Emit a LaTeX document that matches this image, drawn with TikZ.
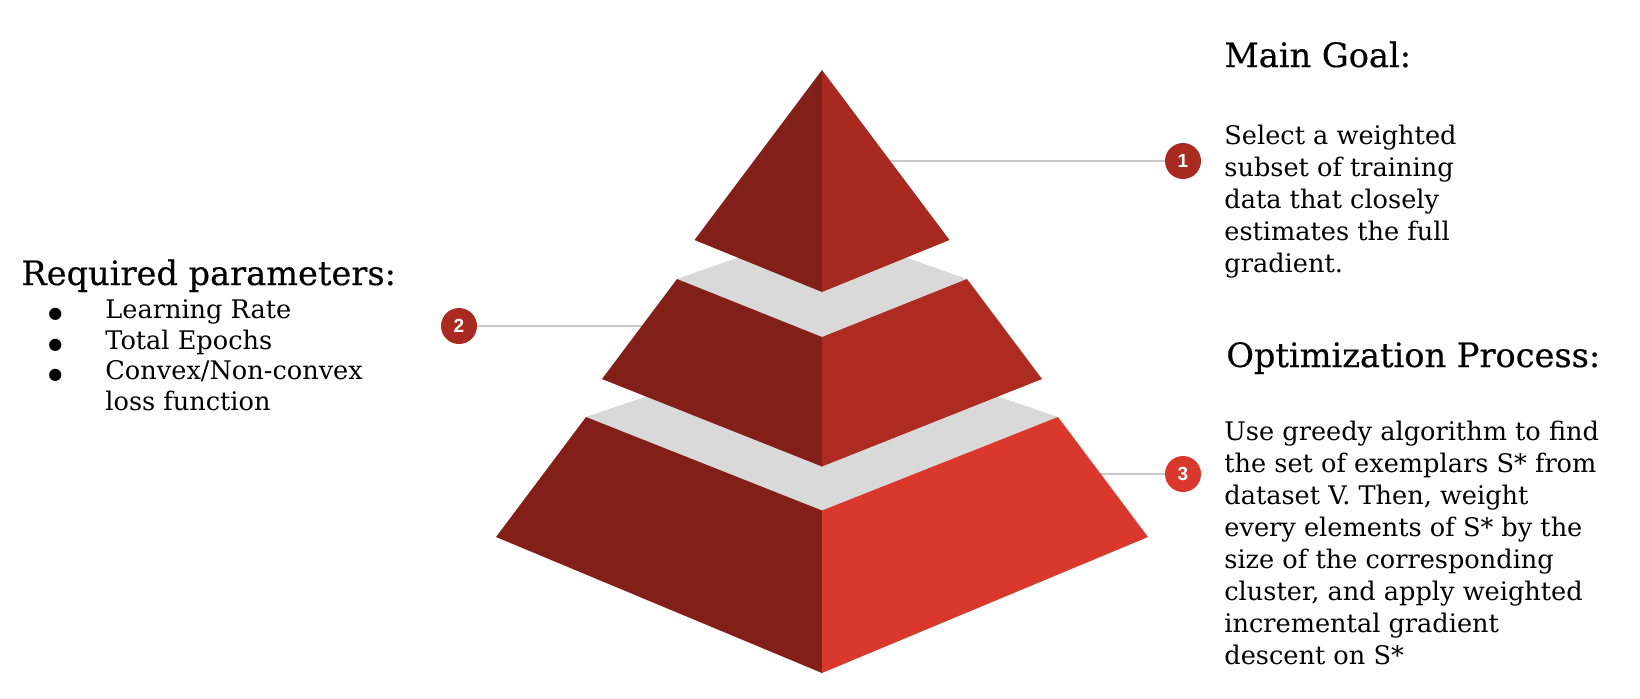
\documentclass[tikz,border=0pt]{standalone}
\usepackage{fontspec}
\setmainfont{DejaVu Serif}
\newfontfamily\headfont[FakeBold=0.4]{DejaVu Serif}
\newfontfamily\numfont{Liberation Sans}
\newfontfamily\symfont{DejaVu Sans}
\definecolor{darkface}{HTML}{821F18}
\definecolor{topright}{HTML}{A8291F}
\definecolor{midright}{HTML}{AE2B22}
\definecolor{botright}{HTML}{DA382C}
\definecolor{bandgray}{HTML}{D9D9D9}
\definecolor{leadgray}{HTML}{C8C8C8}
\definecolor{numdark}{HTML}{A82A20}
\newcommand{\bul}{\makebox[29.5pt][l]{\hspace*{1pt}{\symfont\fontsize{8pt}{8pt}\selectfont ●}}}
\tikzset{
  x=0.5pt, y=-0.5pt,
  leader/.style={draw=leadgray, line width=0.75pt},
  numcirc/.style={circle, fill=#1, minimum size=18pt, inner sep=0pt, text=white, font=\numfont\bfseries\fontsize{9.5pt}{9.5pt}\selectfont},
  headtxt/.style={anchor=base west, inner sep=0pt, font=\headfont\fontsize{16.8pt}{18pt}\selectfont},
  bodytxt/.style={anchor=north west, inner sep=0pt, align=left, font=\fontsize{12.8pt}{16pt}\selectfont},
}
\begin{document}
\begin{tikzpicture}
\useasboundingbox (0,0) rectangle (1640,698);
% leader lines (behind the pyramid)
\coordinate (e1) at (860,161);
\coordinate (e2) at (700,326);
\coordinate (e3) at (1080,474);
\node[numcirc=numdark] (c1) at (1183,161) {1};
\node[numcirc=numdark] (c2) at (459,326) {2};
\node[numcirc=botright] (c3) at (1183,474) {3};
\draw[leader] (e1) -- (c1.west);
\draw[leader] (c2.east) -- (e2);
\draw[leader] (e3) -- (c3.west);
% bottom tier
\fill[bandgray] (586,417) -- (822,336.5) -- (1058,417) -- (822,510.5) -- cycle;
\fill[darkface] (586,417) -- (822,510.5) -- (822,673) -- (496,537) -- cycle;
\fill[botright] (822,510.5) -- (1058,417) -- (1148,537) -- (822,673) -- cycle;
% middle tier
\fill[bandgray] (677,279) -- (822,228) -- (967,279) -- (822,337) -- cycle;
\fill[darkface] (677,279) -- (822,337) -- (822,466.5) -- (602,379) -- cycle;
\fill[midright] (822,337) -- (967,279) -- (1042,379) -- (822,466.5) -- cycle;
% top tier
\fill[darkface] (822,70) -- (822,292) -- (694.5,240) -- cycle;
\fill[topright] (822,70) -- (949.5,240) -- (822,292) -- cycle;
% texts
\node[headtxt] (h1) at (1224,67) {Main Goal:};
\node[bodytxt] (b1) at (1224,125) {Select a weighted\\subset of training\\data that closely\\estimates the full\\gradient.};
\node[headtxt] (h3) at (1226,367) {Optimization Process:};
\node[bodytxt] (b3) at (1224,421) {Use greedy algorithm to find\\the set of exemplars S* from\\dataset V. Then, weight\\every elements of S* by the\\size of the corresponding\\cluster, and apply weighted\\incremental gradient\\descent on S*};
\node[headtxt] (h2) at (21,285) {Required parameters:};
\node[anchor=north west, inner sep=0pt, align=left, font=\fontsize{12.8pt}{15.4pt}\selectfont] (b2) at (46,299)
  {\bul Learning Rate\\\bul Total Epochs\\\bul Convex/Non-convex\\\hspace*{29.5pt}loss function};
\end{tikzpicture}
\end{document}
